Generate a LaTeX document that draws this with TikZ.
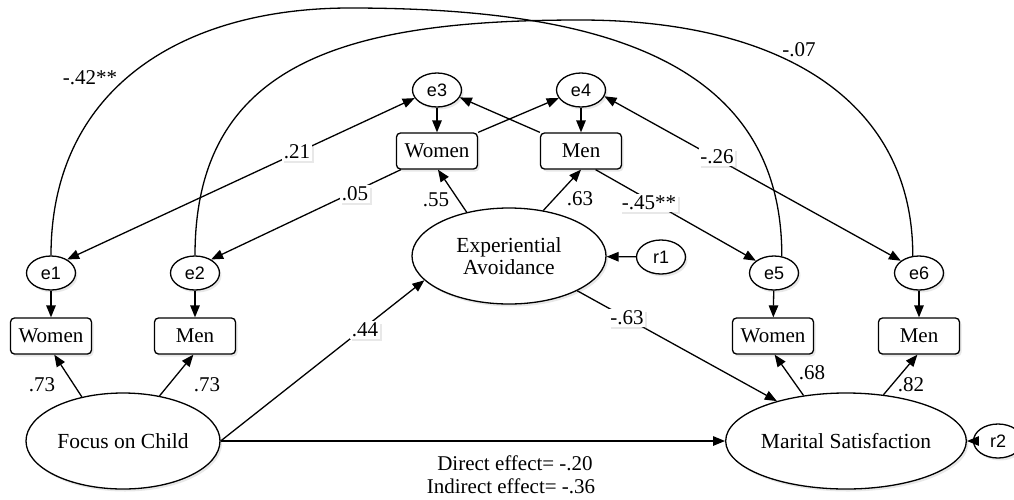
\documentclass[tikz,border=0pt]{standalone}
\usepackage{fontspec}
\setmainfont{Liberation Serif}
\setsansfont{Liberation Sans}
\usetikzlibrary{shapes.geometric,arrows.meta,shadows}
\tikzset{
 shd/.style={drop shadow={opacity=0.18,shadow xshift=2pt,shadow yshift=-2.5pt}},
 lat/.style={ellipse,draw,fill=white,minimum width=194pt,minimum height=96pt,inner sep=0pt,shd,font=\fontsize{21.5}{21.5}\selectfont,align=center},
 err/.style={ellipse,draw,fill=white,minimum width=49pt,minimum height=34pt,inner sep=0pt,shd,font=\sffamily\fontsize{18}{20}\selectfont},
 obs/.style={rectangle,rounded corners=4pt,draw,fill=white,minimum width=81pt,minimum height=36pt,inner sep=0pt,shd,font=\fontsize{21}{23}\selectfont},
 lbl/.style={font=\fontsize{21}{23}\selectfont,inner sep=1.5pt},
 lblb/.style={lbl,fill=white,shd},
 arr/.style={-{Triangle[length=12pt,width=9.5pt]}},
 darr/.style={{Triangle[length=12pt,width=9.5pt]}-{Triangle[length=12pt,width=9.5pt]}},
 efx/.style={font=\fontsize{21}{23}\selectfont,inner sep=0pt},
}
\begin{document}
\begin{tikzpicture}[x=1pt,y=-1pt,line width=1.3pt]
\useasboundingbox (0,0) rectangle (1014,499);
% nodes
\node[err] (e1) at (51,273) {e1};
\node[err] (e2) at (195,273) {e2};
\node[err] (e3) at (437,90) {e3};
\node[err] (e4) at (581,90) {e4};
\node[err] (e5) at (774,273) {e5};
\node[err] (e6) at (919,273) {e6};
\node[err] (r1) at (661,257) {r1};
\node[err] (r2) at (998,441) {r2};
\node[obs] (wl) at (51,336) {Women};
\node[obs] (ml) at (195,336) {Men};
\node[obs] (wm) at (437,151) {Women};
\node[obs] (mm) at (581,151) {Men};
\node[obs] (wr) at (773,336) {Women};
\node[obs] (mr) at (919,336) {Men};
\node[lat] (foc) at (123,441) {Focus on Child};
\node[lat] (ea) at (509,256) {Experiential\\Avoidance};
\node[lat] (ms) at (846,441) {Marital Satisfaction};
% long correlation arcs
\draw (e1.north) .. controls (51,90) and (180,8) .. (350,8) .. controls (600,8) and (782,60) .. (e5.65);
\draw (e2.north) .. controls (195,60) and (350,20) .. (580,20) .. controls (780,20) and (913,100) .. (e6.110);
% error arrows
\draw[arr] (e1) -- (wl);
\draw[arr] (e2) -- (ml);
\draw[arr] (e3) -- (wm);
\draw[arr] (e4) -- (mm);
\draw[arr] (e5) -- (wr);
\draw[arr] (e6) -- (mr);
\draw[arr] (r1) -- (ea);
\draw[arr] (r2) -- (ms);
% loadings
\draw[arr] (foc.133) -- (wl.-80);
\draw[arr] (foc.51) -- (ml.-95);
\draw[arr] (ea.134) -- (wm.-87);
\draw[arr] (ea.53.5) -- (mm.south);
\draw[arr] (ms.133) -- (wr.-85);
\draw[arr] (ms.51) -- (mr.-95);
% structural paths
\draw[arr] (foc.east) -- (ea.196);
\draw[arr] (foc.east) -- (ms.west);
\draw[arr] (ea.-27.5) -- (ms.150);
% cross lines
\draw[darr] (e3.200) -- (e1.40);
\coordinate (wmsw) at ([xshift=5pt]wm.south west);
\draw[arr] (wmsw) -- (e2.40);
\draw[arr] (wm.north east) -- (e4.200);
\draw[arr] (mm.north west) -- (e3.-18);
\draw[arr] (mm.-52) -- (e5.146);
\draw[darr] (e4.-15) -- (e6.146);
% labels
\node[lbl] (l42) at (90,78) {-.42**};
\node[lbl] (l07) at (799,50) {-.07};
\node[lblb] (l21) at (297,152) {.21};
\node[lblb] (l05) at (355,194) {.05};
\node[lbl] (l55) at (436,200) {.55};
\node[lbl] (l63) at (580,199) {.63};
\node[lblb] (l45) at (649,203) {-.45**};
\node[lblb] (l26) at (717,157) {-.26};
\node[lblb] (l44) at (365,330) {.44};
\node[lblb] (lm63) at (627,318) {-.63};
\node[lbl] (l73a) at (42,385) {.73};
\node[lbl] (l73b) at (207,385) {.73};
\node[lbl] (l68) at (812,373) {.68};
\node[lbl] (l82) at (911,385) {.82};
\node[efx] (dir) at (515,463) {Direct effect= -.20};
\node[efx] (ind) at (511,486) {Indirect effect= -.36};
\end{tikzpicture}
\end{document}
